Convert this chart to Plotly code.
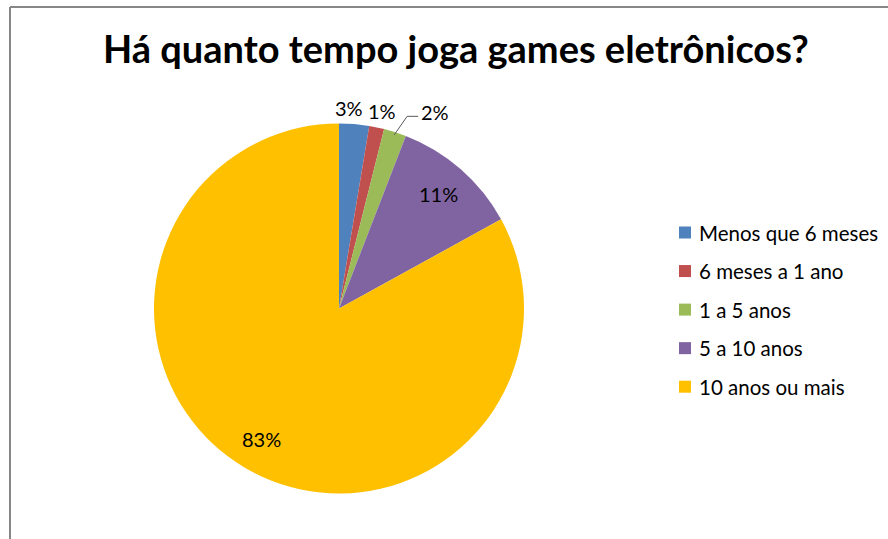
import math
import plotly.graph_objects as go

# ---- data ----
categories = ["Menos que 6 meses", "6 meses a 1 ano", "1 a 5 anos", "5 a 10 anos", "10 anos ou mais"]
counts = [4, 2, 3, 17, 127]
colors = ["#4F81BD", "#C0504D", "#9BBB59", "#8064A2", "#FFC000"]
title_text = "Há quanto tempo joga games eletrônicos?"
label_mode = ["outside", "outside", "leader", "inside", "inside"]
label_dx = [-7, 2, 7, 0, 0]  # horizontal nudges of outside labels (px)

W, H = 888, 539
CX, CY, R = 339, 308.5, 185
FONT = "Lato"
LBL_SIZE = 20

def px(x, y):
    return x / W, 1 - y / H

fig = go.Figure()
fig.add_trace(go.Pie(
    labels=categories, values=counts, sort=False, direction="clockwise", rotation=0,
    marker=dict(colors=colors, line=dict(width=0)),
    textinfo="none", hoverinfo="label+percent", showlegend=False,
    domain=dict(x=[(CX - R) / W, (CX + R) / W], y=[1 - (CY + R) / H, 1 - (CY - R) / H]),
))

total = sum(counts)
annotations = []
shapes = []
cum = 0
for i, v in enumerate(counts):
    frac = v / total
    mid = (cum + frac / 2) * 2 * math.pi
    cum += frac
    sx, sy = math.sin(mid), -math.cos(mid)
    txt = f"{round(frac * 100)}%"
    mode = label_mode[i]
    if mode in ("inside", "outside"):
        k = 0.82 if mode == "inside" else 1.09
        x, y = CX + k * R * sx + label_dx[i], CY + k * R * sy
        ax, ay = px(x, y)
        annotations.append(dict(x=ax, y=ay, xref="paper", yref="paper", text=txt, showarrow=False,
                                xanchor="center", yanchor="middle",
                                font=dict(family=FONT, size=LBL_SIZE, color="#000")))
    else:
        x0, y0 = CX + 0.985 * R * sx, CY + 0.985 * R * sy
        x1, y1 = CX + 1.09 * R * sx + label_dx[i], CY + 1.09 * R * sy
        x2 = x1 + 11
        p0, p1, p2 = px(x0, y0), px(x1, y1), px(x2, y1)
        shapes.append(dict(type="line", xref="paper", yref="paper", x0=p0[0], y0=p0[1], x1=p1[0], y1=p1[1],
                           line=dict(color="#595959", width=1)))
        shapes.append(dict(type="line", xref="paper", yref="paper", x0=p1[0], y0=p1[1], x1=p2[0], y1=p2[1],
                           line=dict(color="#595959", width=1)))
        lp = px(x2 + 1, y1 - 4)
        annotations.append(dict(x=lp[0], y=lp[1], xref="paper", yref="paper", text=txt,
                                showarrow=False, xanchor="left", yanchor="middle",
                                font=dict(family=FONT, size=LBL_SIZE, color="#000")))

# manual legend
LX, LY0, LSTEP, SQ = 679, 232.5, 38.55, 12
for i, (cat, col) in enumerate(zip(categories, colors)):
    yc = LY0 + i * LSTEP
    a0 = px(LX, yc - SQ / 2)
    a1 = px(LX + SQ, yc + SQ / 2)
    shapes.append(dict(type="rect", xref="paper", yref="paper", x0=a0[0], y0=a1[1], x1=a1[0], y1=a0[1],
                       fillcolor=col, line=dict(width=0)))
    t = px(LX + SQ + 6, yc)
    annotations.append(dict(x=t[0], y=t[1], xref="paper", yref="paper", text=cat, showarrow=False,
                            xanchor="left", yanchor="middle", font=dict(family=FONT, size=20.5, color="#000")))

# title
tp = px(456, 48)
annotations.append(dict(x=tp[0], y=tp[1], xref="paper", yref="paper", text=f"<b>{title_text}</b>",
                        showarrow=False, xanchor="center", yanchor="middle",
                        font=dict(family=FONT, size=38, color="#000")))

# chart border (left and top edges)
b0 = px(10, 7)
b1 = px(10, H + 5)
b2 = px(W + 5, 7)
shapes.append(dict(type="line", xref="paper", yref="paper", x0=b0[0], y0=b0[1], x1=b1[0], y1=b1[1],
                   line=dict(color="#878787", width=2)))
shapes.append(dict(type="line", xref="paper", yref="paper", x0=b0[0], y0=b0[1], x1=b2[0], y1=b2[1],
                   line=dict(color="#878787", width=2)))

fig.update_layout(
    width=W, height=H, margin=dict(l=0, r=0, t=0, b=0),
    paper_bgcolor="white", plot_bgcolor="white",
    annotations=annotations, shapes=shapes, showlegend=False,
)
fig.write_html("out.html")
